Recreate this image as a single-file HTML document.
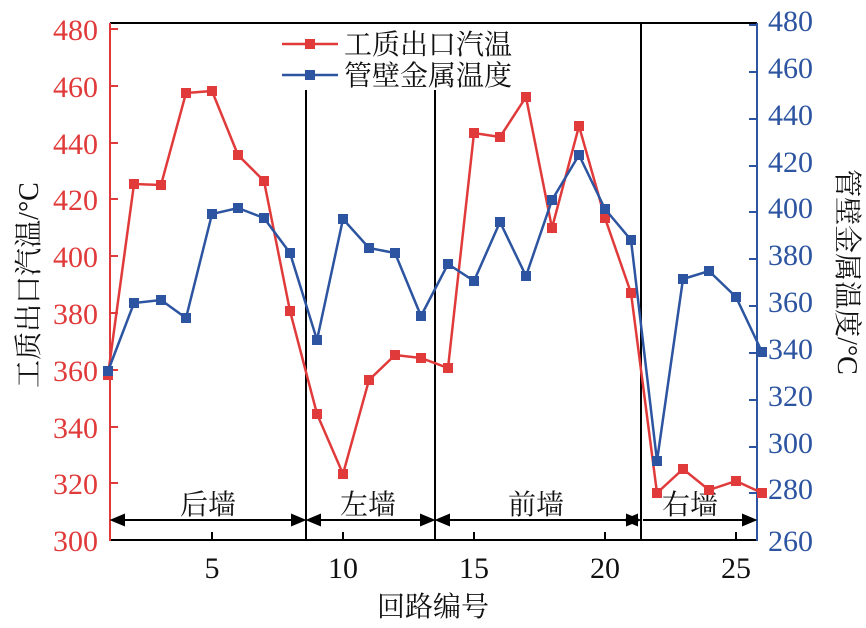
<!DOCTYPE html><html><head><meta charset="utf-8"><style>body{margin:0;background:#fff}svg{display:block}</style></head><body>
<svg width="866" height="628" xmlns="http://www.w3.org/2000/svg" font-family="Liberation Serif, Noto Serif CJK SC, serif">
<rect width="866" height="628" fill="#fff"/>
<line x1="110" y1="23" x2="757" y2="23" stroke="#000" stroke-width="2"/>
<line x1="110" y1="540" x2="757" y2="540" stroke="#000" stroke-width="2"/>
<line x1="110" y1="23" x2="110" y2="541" stroke="#e03a3a" stroke-width="2"/>
<line x1="757" y1="23" x2="757" y2="541" stroke="#2c54a0" stroke-width="2"/>
<g stroke="#000" stroke-width="2">
<line x1="306" y1="90" x2="306" y2="540"/><line x1="435" y1="90" x2="435" y2="540"/><line x1="641" y1="23" x2="641" y2="540"/>
<line x1="212" y1="540" x2="212" y2="532"/><line x1="343" y1="540" x2="343" y2="532"/><line x1="474" y1="540" x2="474" y2="532"/><line x1="605" y1="540" x2="605" y2="532"/><line x1="736" y1="540" x2="736" y2="532"/>
</g>
<g stroke="#e03a3a" stroke-width="2">
<line x1="110" y1="29" x2="118" y2="29"/><line x1="110" y1="86" x2="118" y2="86"/><line x1="110" y1="143" x2="118" y2="143"/><line x1="110" y1="199" x2="118" y2="199"/><line x1="110" y1="256" x2="118" y2="256"/><line x1="110" y1="313" x2="118" y2="313"/><line x1="110" y1="370" x2="118" y2="370"/><line x1="110" y1="427" x2="118" y2="427"/><line x1="110" y1="483" x2="118" y2="483"/>
</g>
<g stroke="#2c54a0" stroke-width="2">
<line x1="749" y1="25" x2="757" y2="25"/><line x1="749" y1="72" x2="757" y2="72"/><line x1="749" y1="119" x2="757" y2="119"/><line x1="749" y1="166" x2="757" y2="166"/><line x1="749" y1="212" x2="757" y2="212"/><line x1="749" y1="259" x2="757" y2="259"/><line x1="749" y1="306" x2="757" y2="306"/><line x1="749" y1="353" x2="757" y2="353"/><line x1="749" y1="400" x2="757" y2="400"/><line x1="749" y1="447" x2="757" y2="447"/><line x1="749" y1="493" x2="757" y2="493"/>
</g>
<g fill="#e03a3a" font-size="30" text-anchor="end">
<text x="98" y="40">480</text><text x="98" y="97">460</text><text x="98" y="154">440</text><text x="98" y="210">420</text><text x="98" y="267">400</text><text x="98" y="324">380</text><text x="98" y="381">360</text><text x="98" y="438">340</text><text x="98" y="494">320</text><text x="98" y="551">300</text>
</g>
<g fill="#2c54a0" font-size="30">
<text x="768" y="31">480</text><text x="768" y="78">460</text><text x="768" y="125">440</text><text x="768" y="172">420</text><text x="768" y="218">400</text><text x="768" y="265">380</text><text x="768" y="312">360</text><text x="768" y="359">340</text><text x="768" y="406">320</text><text x="768" y="453">300</text><text x="768" y="499">280</text><text x="768" y="551">260</text>
</g>
<g font-size="30" text-anchor="middle" fill="#111">
<text x="212" y="578">5</text><text x="343" y="578">10</text><text x="474" y="578">15</text><text x="605" y="578">20</text><text x="736" y="578">25</text>
<text x="433" y="616" font-size="28">回路编号</text>
<text x="208" y="514" font-size="28">后墙</text><text x="368" y="514" font-size="28">左墙</text><text x="536" y="514" font-size="28">前墙</text><text x="690" y="514" font-size="28">右墙</text>
</g>
<text transform="translate(38,285) rotate(-90)" font-size="28" text-anchor="middle" fill="#111">工质出口汽温/°C</text>
<text transform="translate(838,272) rotate(90)" font-size="28" text-anchor="middle" fill="#111">管壁金属温度/°C</text>
<g stroke="#000" stroke-width="2" fill="#000">
<line x1="112" y1="520" x2="304" y2="520"/><path d="M112 520l12-5v10z"/><path d="M304 520l-12-5v10z"/>
<line x1="308" y1="520" x2="433" y2="520"/><path d="M308 520l12-5v10z"/><path d="M433 520l-12-5v10z"/>
<line x1="437" y1="520" x2="639" y2="520"/><path d="M437 520l12-5v10z"/><path d="M639 520l-12-5v10z"/>
<line x1="643" y1="520" x2="755" y2="520"/><path d="M627 520l12-5v10z" transform="translate(-2,0)"/><path d="M755 520l-12-5v10z"/>
</g>
<polyline fill="none" stroke="#e03a3a" stroke-width="2.5" points="108,375 134,184 161,185 186,93 212,91 238,155 264,181 290,311 317,414 343,474 369,380 395,355 421,358 448,368 474,133 500,137 526,97 552,228 579,126 605,218 631,293 657,493 683,469 709,490 736,481 762,493"/>
<g fill="#e03a3a">
<rect x="103" y="370" width="10" height="10"/><rect x="129" y="179" width="10" height="10"/><rect x="156" y="180" width="10" height="10"/><rect x="181" y="88" width="10" height="10"/><rect x="207" y="86" width="10" height="10"/><rect x="233" y="150" width="10" height="10"/><rect x="259" y="176" width="10" height="10"/><rect x="285" y="306" width="10" height="10"/><rect x="312" y="409" width="10" height="10"/><rect x="338" y="469" width="10" height="10"/><rect x="364" y="375" width="10" height="10"/><rect x="390" y="350" width="10" height="10"/><rect x="416" y="353" width="10" height="10"/><rect x="443" y="363" width="10" height="10"/><rect x="469" y="128" width="10" height="10"/><rect x="495" y="132" width="10" height="10"/><rect x="521" y="92" width="10" height="10"/><rect x="547" y="223" width="10" height="10"/><rect x="574" y="121" width="10" height="10"/><rect x="600" y="213" width="10" height="10"/><rect x="626" y="288" width="10" height="10"/><rect x="652" y="488" width="10" height="10"/><rect x="678" y="464" width="10" height="10"/><rect x="704" y="485" width="10" height="10"/><rect x="731" y="476" width="10" height="10"/><rect x="757" y="488" width="10" height="10"/>
</g>
<polyline fill="none" stroke="#2c54a0" stroke-width="2.5" points="108,371 134,303 161,300 186,318 212,214 238,208 264,218 290,253 317,340 343,219 369,248 395,253 421,316 448,264 474,281 500,222 526,276 552,200 579,155 605,209 631,240 657,461 683,279 709,271 736,297 762,352"/>
<g fill="#2c54a0">
<rect x="103" y="366" width="10" height="10"/><rect x="129" y="298" width="10" height="10"/><rect x="156" y="295" width="10" height="10"/><rect x="181" y="313" width="10" height="10"/><rect x="207" y="209" width="10" height="10"/><rect x="233" y="203" width="10" height="10"/><rect x="259" y="213" width="10" height="10"/><rect x="285" y="248" width="10" height="10"/><rect x="312" y="335" width="10" height="10"/><rect x="338" y="214" width="10" height="10"/><rect x="364" y="243" width="10" height="10"/><rect x="390" y="248" width="10" height="10"/><rect x="416" y="311" width="10" height="10"/><rect x="443" y="259" width="10" height="10"/><rect x="469" y="276" width="10" height="10"/><rect x="495" y="217" width="10" height="10"/><rect x="521" y="271" width="10" height="10"/><rect x="547" y="195" width="10" height="10"/><rect x="574" y="150" width="10" height="10"/><rect x="600" y="204" width="10" height="10"/><rect x="626" y="235" width="10" height="10"/><rect x="652" y="456" width="10" height="10"/><rect x="678" y="274" width="10" height="10"/><rect x="704" y="266" width="10" height="10"/><rect x="731" y="292" width="10" height="10"/><rect x="757" y="347" width="10" height="10"/>
</g>
<line x1="282" y1="44" x2="338" y2="44" stroke="#e03a3a" stroke-width="2.5"/><rect x="305" y="39" width="10" height="10" fill="#e03a3a"/>
<line x1="282" y1="75" x2="338" y2="75" stroke="#2c54a0" stroke-width="2.5"/><rect x="305" y="70" width="10" height="10" fill="#2c54a0"/>
<text x="344" y="54" font-size="28" fill="#111">工质出口汽温</text>
<text x="344" y="85" font-size="28" fill="#111">管壁金属温度</text>
</svg>
</body></html>
